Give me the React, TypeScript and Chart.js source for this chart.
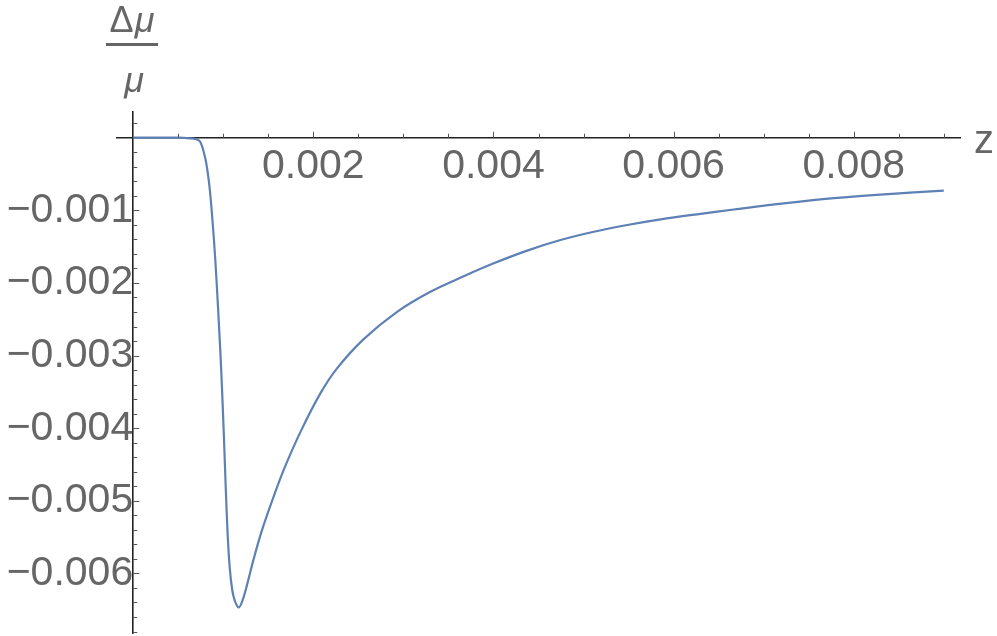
import { useEffect, useRef } from 'react';
import { Chart, registerables } from 'chart.js';

Chart.register(...registerables);

// ---- data ----
const zValues = [
  0, 0.0003, 0.0005, 0.00063, 0.00069, 0.000744, 0.0008, 0.000831, 0.000853, 0.000884,
  0.00091, 0.000932, 0.000952, 0.000978, 0.001007, 0.001027, 0.00105, 0.001074, 0.0011, 0.001126,
  0.00117, 0.001208, 0.001263, 0.001337, 0.00143, 0.001541, 0.00167, 0.001856, 0.002078, 0.002263,
  0.002559, 0.00293, 0.0033, 0.00367, 0.004003, 0.004374, 0.004744, 0.005114, 0.005486, 0.005856,
  0.0063, 0.00667, 0.007226, 0.007781, 0.008337, 0.009,
];
const dMuValues = [
  0, 0, 0, -0.000008, -0.000018, -0.000055, -0.000284, -0.000514, -0.000744, -0.001202,
  -0.001657, -0.002121, -0.00258, -0.003223, -0.004118, -0.004807, -0.005496, -0.005955, -0.006231, -0.006368,
  -0.006468, -0.006391, -0.006161, -0.005803, -0.005404, -0.005004, -0.004577, -0.004054, -0.003521, -0.003176,
  -0.002773, -0.002397, -0.002121, -0.001908, -0.00173, -0.001555, -0.001409, -0.001295, -0.001202, -0.001124,
  -0.001048, -0.000989, -0.000904, -0.000833, -0.00078, -0.000729,
];

const xTickLabels = [0.002, 0.004, 0.006, 0.008];
const yTickLabels = [-0.001, -0.002, -0.003, -0.004, -0.005, -0.006];
const xMinorStep = 0.0005;
const yMinorStep = 0.0002;

const xRange = [-0.00018, 0.00918];
const yRange = [-0.00682, 0.000354];

const xAxisTitle = 'z';
const yTitleTop = ['Δ', 'μ'];
const yTitleBottom = 'μ';

const FONT = '"Liberation Sans", Arial, sans-serif';
const LABEL_COLOR = '#666666';
const AXIS_COLOR = '#222222';
const LINE_COLOR = '#5E81B5';

const axisDecor = {
  id: 'axisDecor',
  afterDraw(chart: any) {
    const { ctx } = chart;
    const xs = chart.scales.x;
    const ys = chart.scales.y;
    const x0 = xs.getPixelForValue(0);
    const y0 = ys.getPixelForValue(0);
    ctx.save();
    ctx.strokeStyle = '#555555';
    ctx.lineWidth = 1;
    // x ticks (pointing up)
    for (let i = 1; ; i++) {
      const v = i * xMinorStep;
      if (v > xRange[1]) break;
      const p = Math.round(xs.getPixelForValue(v)) + 0.5;
      const len = i % 4 === 0 ? 6 : 4;
      ctx.beginPath();
      ctx.moveTo(p, y0);
      ctx.lineTo(p, y0 - len);
      ctx.stroke();
    }
    // y ticks (pointing right)
    for (let i = 1; ; i++) {
      const v = i * yMinorStep;
      if (v > yRange[1]) break;
      const p = Math.round(ys.getPixelForValue(v)) + 0.5;
      ctx.beginPath();
      ctx.moveTo(x0, p);
      ctx.lineTo(x0 + 4, p);
      ctx.stroke();
    }
    for (let i = -1; ; i--) {
      const v = i * yMinorStep;
      if (v < yRange[0]) break;
      const p = Math.round(ys.getPixelForValue(v)) + 0.5;
      const len = i % 5 === 0 ? 6 : 4;
      ctx.beginPath();
      ctx.moveTo(x0, p);
      ctx.lineTo(x0 + len, p);
      ctx.stroke();
    }

    // axis titles
    ctx.fillStyle = LABEL_COLOR;
    ctx.textBaseline = 'alphabetic';
    ctx.textAlign = 'left';
    ctx.font = `40px ${FONT}`;
    ctx.fillText(xAxisTitle, xs.right + 14, y0 + 15);

    const cx = 132;
    const size = 36;
    ctx.font = `${size}px ${FONT}`;
    const wD = ctx.measureText(yTitleTop[0]).width;
    ctx.font = `italic ${size}px ${FONT}`;
    const wM = ctx.measureText(yTitleTop[1]).width;
    const start = cx - (wD + wM + 1) / 2;
    ctx.font = `${size}px ${FONT}`;
    ctx.fillText(yTitleTop[0], start, 32);
    ctx.font = `italic ${size}px ${FONT}`;
    ctx.fillText(yTitleTop[1], start + wD + 1, 32);
    ctx.fillRect(106, 43, 52, 3);
    const wB = ctx.measureText(yTitleBottom).width;
    ctx.fillText(yTitleBottom, cx + 2 - wB / 2, 92);
    ctx.restore();
  },
};

export default function App() {
  const ref = useRef<HTMLCanvasElement | null>(null);
  useEffect(() => {
    if (!ref.current) return;
    const points = zValues.map((z, i) => ({ x: z, y: dMuValues[i] }));
    const chart = new Chart(ref.current, {
      type: 'scatter',
      data: {
        datasets: [
          {
            data: points,
            showLine: true,
            borderColor: LINE_COLOR,
            borderWidth: 2.2,
            pointRadius: 0,
            tension: 0.35,
            fill: false,
          },
        ],
      },
      options: {
        responsive: false,
        animation: false,
        devicePixelRatio: 1,
        layout: { padding: { left: 117, top: 112, right: 37, bottom: 3 }, autoPadding: false },
        plugins: { legend: { display: false }, tooltip: { enabled: false } },
        scales: {
          x: {
            type: 'linear',
            min: xRange[0],
            max: xRange[1],
            position: { y: 0 },
            grid: { display: false, drawTicks: false },
            border: { display: true, color: AXIS_COLOR, width: 1.6 },
            afterBuildTicks: (s: any) => {
              s.ticks = xTickLabels.map((v) => ({ value: v }));
            },
            afterFit: (s: any) => {
              s.paddingLeft = 0; s.paddingRight = 0; s.paddingTop = 0; s.paddingBottom = 0;
            },
            ticks: {
              autoSkip: false,
              maxRotation: 0,
              padding: 4,
              color: LABEL_COLOR,
              font: { family: FONT, size: 41, lineHeight: 1.2 },
              callback: (v: any) => Number(v).toFixed(3),
            },
          },
          y: {
            type: 'linear',
            min: yRange[0],
            max: yRange[1],
            position: { x: 0 },
            grid: { display: false, drawTicks: false },
            border: { display: true, color: AXIS_COLOR, width: 1.6 },
            afterBuildTicks: (s: any) => {
              s.ticks = yTickLabels.map((v) => ({ value: v }));
            },
            afterFit: (s: any) => {
              s.paddingLeft = 0; s.paddingRight = 0; s.paddingTop = 0; s.paddingBottom = 0;
            },
            ticks: {
              autoSkip: false,
              padding: 6,
              color: LABEL_COLOR,
              font: { family: FONT, size: 41, lineHeight: 1.2 },
              callback: (v: any) => '\u2212' + Math.abs(Number(v)).toFixed(3),
            },
          },
        },
      },
      plugins: [axisDecor],
    } as any);
    return () => chart.destroy();
  }, []);
  return (
    <div style={{ position: 'absolute', left: 0, top: 0, width: 997, height: 636 }}>
      <canvas ref={ref} width={997} height={636} style={{ display: 'block' }} />
    </div>
  );
}
